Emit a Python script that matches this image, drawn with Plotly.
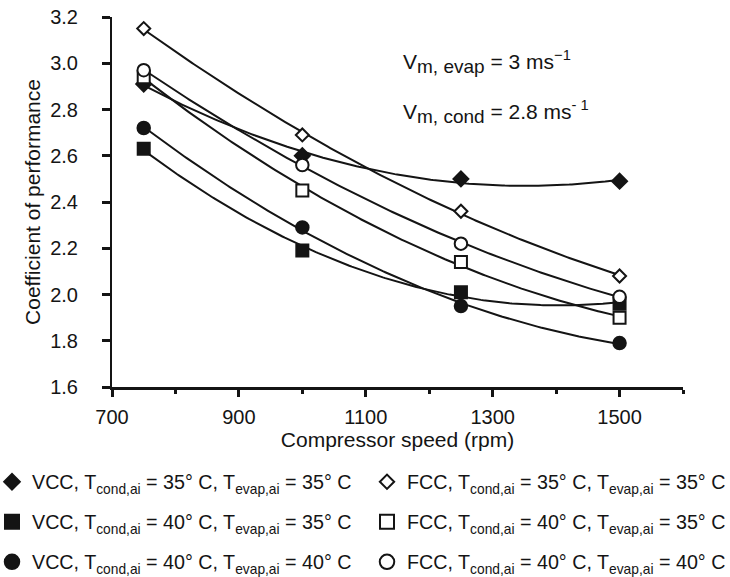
import numpy as np
import plotly.graph_objects as go

# Compressor speed (rpm)
speed = [750, 1000, 1250, 1500]

# Coefficient of performance for each configuration
vcc_35_35 = [2.91, 2.60, 2.50, 2.49]
fcc_35_35 = [3.15, 2.69, 2.36, 2.08]
vcc_40_35 = [2.63, 2.19, 2.01, 1.96]
fcc_40_35 = [2.94, 2.45, 2.14, 1.90]
vcc_40_40 = [2.72, 2.29, 1.95, 1.79]
fcc_40_40 = [2.97, 2.56, 2.22, 1.99]

names = [
    "VCC, T<sub>cond,ai</sub> = 35° C, T<sub>evap,ai</sub> = 35° C",
    "FCC, T<sub>cond,ai</sub> = 35° C, T<sub>evap,ai</sub> = 35° C",
    "VCC, T<sub>cond,ai</sub> = 40° C, T<sub>evap,ai</sub> = 35° C",
    "FCC, T<sub>cond,ai</sub> = 40° C, T<sub>evap,ai</sub> = 35° C",
    "VCC, T<sub>cond,ai</sub> = 40° C, T<sub>evap,ai</sub> = 40° C",
    "FCC, T<sub>cond,ai</sub> = 40° C, T<sub>evap,ai</sub> = 40° C",
]
series = [vcc_35_35, fcc_35_35, vcc_40_35, fcc_40_35, vcc_40_40, fcc_40_40]
symbols = ["diamond", "diamond", "square", "square", "circle", "circle"]
filled = [True, False, True, False, True, False]
sizes = [11.5, 10, 12, 12, 12.5, 12.5]
key_sizes = [12, 11, 14, 14, 14.5, 14.5]

INK = "#141414"
FONT = "Liberation Sans, Arial, sans-serif"

# plot area in pixels, used to place the legend entries
L, R, T, B = 112, 47, 17, 190
W, H = 730, 577
pw, ph = W - L - R, H - T - B

fig = go.Figure()

# second-order trend lines fitted to each series
xs = np.linspace(min(speed), max(speed), 200)
for ys in series:
    coef = np.polyfit(speed, ys, 2)
    fig.add_trace(go.Scatter(
        x=xs, y=np.polyval(coef, xs), mode="lines",
        line=dict(color=INK, width=2), showlegend=False, hoverinfo="skip",
    ))

# measured points
for name, ys, sym, fill, sz in zip(names, series, symbols, filled, sizes):
    fig.add_trace(go.Scatter(
        x=speed, y=ys, mode="markers", name=name, showlegend=False,
        marker=dict(symbol=sym, size=sz, color=INK if fill else "white",
                    line=dict(color=INK, width=2)),
    ))

# legend keys (slightly larger symbols), one legend box per entry:
# two columns, three rows
col_x = [-8, 367]
row_y = [482, 522, 562]
legend_layout = {}
for i, (name, sym, fill, sz) in enumerate(zip(names, symbols, filled, key_sizes)):
    key = "legend" if i == 0 else f"legend{i + 1}"
    fig.add_trace(go.Scatter(
        x=[None], y=[None], mode="markers", name=name, legend=key,
        marker=dict(symbol=sym, size=sz, color=INK if fill else "white",
                    line=dict(color=INK, width=2)),
    ))
    cx = col_x[i % 2]
    cy = row_y[i // 2]
    legend_layout[key] = dict(
        x=(cx - L) / pw, xanchor="left",
        y=(H - B - cy) / ph, yanchor="middle",
        orientation="h", font=dict(size=19.7, family=FONT, color=INK),
        itemsizing="trace", bgcolor="rgba(0,0,0,0)", borderwidth=0,
    )

fig.update_layout(
    width=W, height=H,
    margin=dict(l=L, r=R, t=T, b=B, autoexpand=False),
    plot_bgcolor="white", paper_bgcolor="white",
    font=dict(family=FONT, size=20, color=INK),
    showlegend=True,
    xaxis=dict(
        range=[700, 1600], tickvals=[700, 900, 1100, 1300, 1500],
        showline=True, linecolor=INK, linewidth=3, ticks="outside",
        ticklen=7, tickwidth=3, tickcolor=INK, showgrid=False, zeroline=False,
        minor=dict(dtick=100, tick0=700, ticks="outside", ticklen=4, tickwidth=3, tickcolor=INK),
        title=dict(text="Compressor speed (rpm)", standoff=0, font=dict(size=21)),
        tickfont=dict(size=20), ticklabelstandoff=3,
    ),
    yaxis=dict(
        range=[1.6, 3.2], dtick=0.2, tick0=1.6, tickformat=".1f",
        showline=True, linecolor=INK, linewidth=2, ticks="outside",
        ticklen=8, tickwidth=3, tickcolor=INK, showgrid=False, zeroline=False,
        title=dict(text="Coefficient of performance", standoff=4, font=dict(size=21)),
        tickfont=dict(size=20), ticklabelposition="outside", ticklabelstandoff=20,
    ),
    **legend_layout,
)

fig.add_annotation(
    xref="paper", yref="paper", x=(401 - L) / pw, y=(H - B - 62) / ph,
    xanchor="left", yanchor="middle", showarrow=False, font=dict(size=21),
    text="V<sub><span style='font-size:19px'>m, evap</span></sub> = 3 ms<sup>−1</sup>",
)
fig.add_annotation(
    xref="paper", yref="paper", x=(401 - L) / pw, y=(H - B - 112) / ph,
    xanchor="left", yanchor="middle", showarrow=False, font=dict(size=21),
    text="V<sub><span style='font-size:19px'>m, cond</span></sub> = 2.8 ms<sup>- 1</sup>",
)

fig.write_html("out.html")
